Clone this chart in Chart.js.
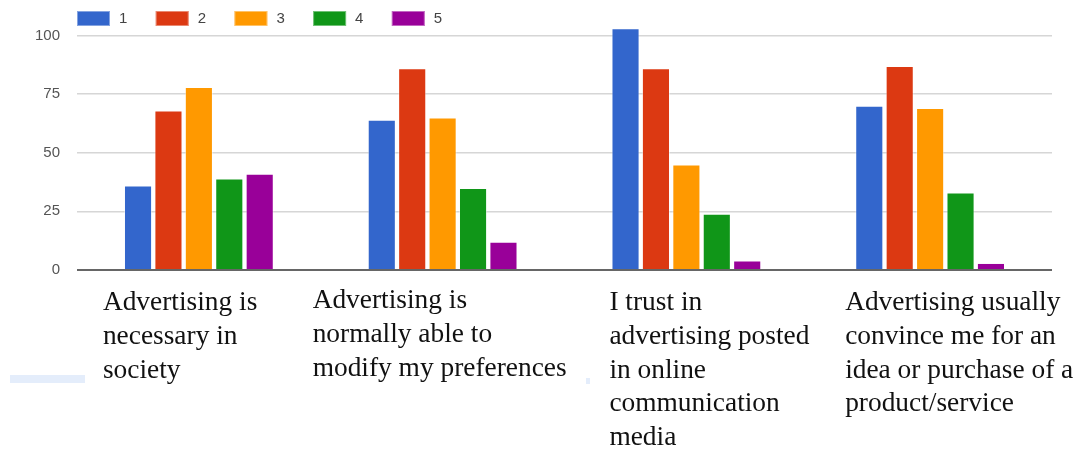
<!DOCTYPE html>
<html>
<head>
<meta charset="utf-8">
<title>Advertising survey</title>
<script src="https://cdn.jsdelivr.net/npm/chart.js@4.4.1/dist/chart.umd.min.js"></script>
<style>
    body { margin: 0; background: #fff; }
    #wrap { width: 1078px; height: 450px; position: relative; }
</style>
</head>
<body>
<div id="wrap"><canvas id="myChart" width="1078" height="450"></canvas></div>
<script>
// --------------------------- DATA ---------------------------

// survey statements (one line per array item)
const statements = [
    ['Advertising is', 'necessary in', 'society'],
    ['Advertising is', 'normally able to', 'modify my preferences'],
    ['I trust in', 'advertising posted', 'in online', 'communication', 'media'],
    ['Advertising usually', 'convince me for an', 'idea or purchase of a', 'product/service']
];

// answers on the 1..5 scale
const scaleLabels = ['1', '2', '3', '4', '5'];

// number of respondents per answer, one array per answer
const answers1 = [36, 64, 103, 70];
const answers2 = [68, 86, 86, 87];
const answers3 = [78, 65, 45, 69];
const answers4 = [39, 35, 24, 33];
const answers5 = [41, 12, 4, 3];

const yTicks = [0, 25, 50, 75, 100];

// --------------------------- STYLE ---------------------------

const colors = ['#3366cc', '#dc3912', '#ff9900', '#109618', '#990099'];

// where each statement starts, relative to its category centre
const labelShift = [-96, -130, -77, -85];
const labelBaseline = [310, 308, 310, 310];
const lineGap = 33.8;

// --------------------------- PLUGINS ---------------------------

// legend row in the top-left corner
const topLegend = {
    id: 'topLegend',
    afterDraw: (chart) => {
        const ctx = chart.ctx;
        const left = chart.chartArea.left;
        ctx.save();
        ctx.font = '15px Arial, "Liberation Sans", sans-serif';
        ctx.textBaseline = 'middle';
        chart.data.datasets.forEach((ds, i) => {
            const x = left + i * 78.7;
            ctx.fillStyle = ds.backgroundColor;
            ctx.fillRect(x, 11, 33, 15);
            ctx.strokeStyle = 'rgba(255,255,255,0.4)';
            ctx.lineWidth = 1;
            ctx.strokeRect(x + 0.5, 11.5, 32, 14);
            ctx.fillStyle = '#444';
            ctx.textAlign = 'left';
            ctx.fillText(ds.label, x + 42, 19);
        });
        ctx.restore();
    } // end afterDraw
};

// multi-line statements below the bars, left aligned
const statementLabels = {
    id: 'statementLabels',
    afterDraw: (chart) => {
        const ctx = chart.ctx;
        const xScale = chart.scales.x;
        ctx.save();
        ctx.font = '27.4px "Times New Roman", "Liberation Serif", serif';
        ctx.fillStyle = '#111';
        ctx.textAlign = 'left';
        ctx.textBaseline = 'alphabetic';
        statements.forEach((lines, i) => {
            const x = xScale.getPixelForValue(i) + labelShift[i];
            lines.forEach((line, j) => {
                ctx.fillText(line, x, labelBaseline[i] + j * lineGap);
            });
        });

        // faint leftovers from the page the chart was pasted into
        ctx.fillStyle = '#e4edfb';
        ctx.fillRect(10, 375, 75, 8);
        ctx.fillRect(586, 378, 4, 6);
        ctx.restore();
    } // end afterDraw
};

// --------------------------- CHART ---------------------------

const makeSet = (label, data, i) => ({
    label: label,
    data: data,
    backgroundColor: colors[i],
    borderColor: 'rgba(255,255,255,0.45)',
    borderWidth: 1,
    barPercentage: 0.924,
    categoryPercentage: 0.624
});

let ctx = document.querySelector('#myChart');
let myChart = new Chart(ctx, {
    type: 'bar',
    data: {
        labels: statements.map(s => s.join(' ')),
        datasets: [answers1, answers2, answers3, answers4, answers5].map((d, i) => makeSet(scaleLabels[i], d, i))
    },
    options: {
        responsive: false,
        animation: false,
        layout: { padding: { top: 20, right: 26, bottom: 180, left: 0 } },
        plugins: {
            legend: { display: false },
            tooltip: { enabled: false }
        },
        scales: {
            x: { display: false },
            y: {
                min: 0,
                max: 104,
                afterBuildTicks: (scale) => {
                    scale.ticks = yTicks.map(v => ({ value: v }));
                },
                afterFit: (scale) => { scale.width = 77; },
                border: { display: false },
                grid: {
                    drawTicks: false,
                    color: (c) => c.tick.value === 0 ? '#666' : '#d6d6d6',
                    lineWidth: (c) => c.tick.value === 0 ? 2 : 1.5
                },
                ticks: {
                    padding: 17,
                    color: '#555',
                    font: { family: 'Arial, "Liberation Sans", sans-serif', size: 15 }
                }
            }
        }
    },
    plugins: [topLegend, statementLabels]
});
</script>
</body>
</html>
